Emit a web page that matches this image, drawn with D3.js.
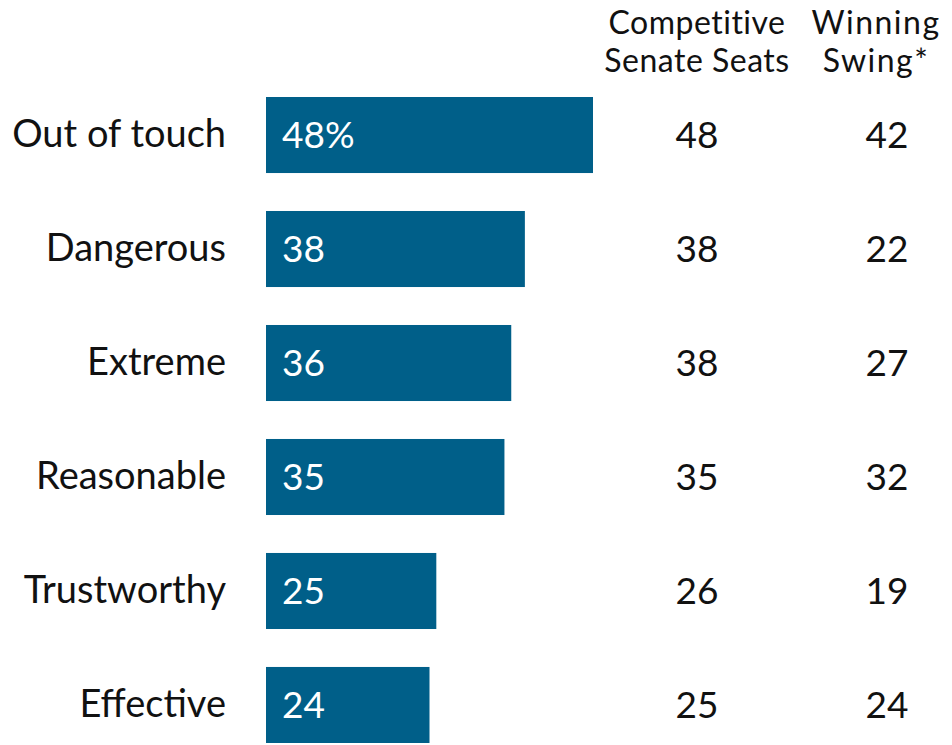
<!DOCTYPE html>
<html>
<head>
<meta charset="utf-8">
<script src="https://cdn.jsdelivr.net/npm/d3@7"></script>
<style>
  body { margin: 0; background: #fff; }
  text { font-family: Lato, "Open Sans", sans-serif; }
</style>
</head>
<body>
<div id="chart"></div>
<script>
// data
var traits = ["Out of touch", "Dangerous", "Extreme", "Reasonable", "Trustworthy", "Effective"];
var allVoters = [48, 38, 36, 35, 25, 24];
var competitiveSeats = [48, 38, 38, 35, 26, 25];
var winningSwing = [42, 22, 27, 32, 19, 24];
var colHeaders = [["Competitive", "Senate Seats"], ["Winning", "Swing*"]];

var width = 952, height = 745;
var barColor = "#005F89";

var svg = d3.select("#chart").append("svg")
    .attr("width", width)
    .attr("height", height);

var x = d3.scaleLinear().domain([0, 48]).range([266, 593]);
var y = d3.scaleBand().domain(traits).range([97, 743]).paddingInner(0.333).paddingOuter(0);

var rows = traits.map(function(t, i) {
  return {trait: t, all: allVoters[i], comp: competitiveSeats[i], swing: winningSwing[i]};
});

// bars
svg.selectAll("rect.bar")
  .data(rows).enter()
  .append("rect")
  .attr("class", "bar")
  .attr("x", x(0))
  .attr("y", function(d) { return y(d.trait); })
  .attr("width", function(d) { return x(d.all) - x(0); })
  .attr("height", y.bandwidth())
  .style("fill", barColor);

// values inside bars
svg.selectAll("text.val")
  .data(rows).enter()
  .append("text")
  .attr("class", "val")
  .attr("x", x(0) + 16)
  .attr("y", function(d) { return y(d.trait) + y.bandwidth() / 2 + 13; })
  .style("font-size", "37px")
  .style("fill", "#fff")
  .text(function(d, i) { return i == 0 ? d.all + "%" : d.all; });

// category labels
svg.selectAll("text.cat")
  .data(rows).enter()
  .append("text")
  .attr("class", "cat")
  .attr("x", 226)
  .attr("y", function(d) { return y(d.trait) + y.bandwidth() / 2 + 12; })
  .attr("text-anchor", "end")
  .style("font-size", "38px")
  .style("fill", "#111")
  .text(function(d) { return d.trait; });

// extra columns
var colX = [697, 887];
[["comp", 0], ["swing", 1]].forEach(function(c) {
  svg.selectAll("text.col" + c[1])
    .data(rows).enter()
    .append("text")
    .attr("class", "col" + c[1])
    .attr("x", colX[c[1]])
    .attr("y", function(d) { return y(d.trait) + y.bandwidth() / 2 + 13; })
    .attr("text-anchor", "middle")
    .style("font-size", "37px")
    .style("fill", "#111")
    .text(function(d) { return d[c[0]]; });
});

// headers
var headX = [697, 876];
colHeaders.forEach(function(lines, j) {
  svg.append("text")
    .attr("x", headX[j])
    .attr("y", 34)
    .attr("text-anchor", "middle")
    .style("font-size", "32px")
    .style("letter-spacing", j == 1 ? "1.5px" : "0.5px")
    .style("fill", "#111")
    .selectAll("tspan")
    .data(lines).enter()
    .append("tspan")
    .attr("x", headX[j])
    .attr("dy", function(d, i) { return i == 0 ? 0 : 38; })
    .text(function(d) { return d; });
});
</script>
</body>
</html>
